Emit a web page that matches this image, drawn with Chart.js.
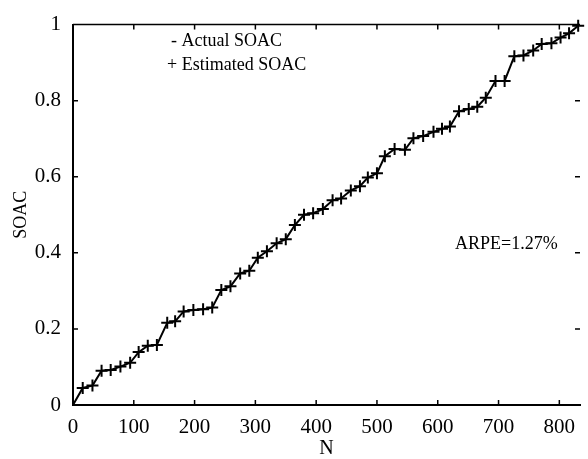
<!DOCTYPE html>
<html>
<head>
<meta charset="utf-8">
<script src="https://cdn.jsdelivr.net/npm/chart.js@4/dist/chart.umd.min.js"></script>
<style>
  html, body { margin: 0; padding: 0; background: #fff; }
  #wrap { width: 588px; height: 459px; }
</style>
</head>
<body>
<div id="wrap"><canvas id="soacChart" width="588" height="459"></canvas></div>
<script>
// sample index N and SOAC values
const sampleN = [16, 32, 47, 62, 78, 94, 108, 123, 138, 155, 168, 182, 198, 214, 229,
  244, 259, 275, 290, 304, 319, 335, 350, 365, 380, 395, 411, 427, 441, 457,
  472, 485, 500, 513, 529, 546, 560, 576, 593, 607, 620, 635, 651, 665, 679,
  695, 710, 726, 741, 757, 771, 787, 802, 816, 831];
const actualSoac = [0.045, 0.051, 0.090, 0.092, 0.101, 0.111, 0.139, 0.156, 0.158, 0.216,
  0.220, 0.246, 0.250, 0.252, 0.256, 0.302, 0.312, 0.346, 0.353, 0.387,
  0.404, 0.425, 0.436, 0.473, 0.500, 0.504, 0.515, 0.538, 0.543, 0.564,
  0.575, 0.598, 0.609, 0.654, 0.673, 0.671, 0.701, 0.707, 0.718, 0.726,
  0.732, 0.772, 0.778, 0.784, 0.808, 0.852, 0.852, 0.917, 0.919, 0.932,
  0.949, 0.951, 0.966, 0.977, 0.997];
const estimatedSoac = actualSoac.slice();

const xTicks = [0, 100, 200, 300, 400, 500, 600, 700, 800];
const yTicks = [0, 0.2, 0.4, 0.6, 0.8, 1];
const xMax = 834;

const serif = "'Liberation Serif', 'DejaVu Serif', serif";

// line starts at the origin
const actualPts = [{ x: 0, y: 0 }].concat(sampleN.map((n, i) => ({ x: n, y: actualSoac[i] })));
const estimatedPts = sampleN.map((n, i) => ({ x: n, y: estimatedSoac[i] }));

// inward ticks, top border and the text notes
const framePlugin = {
  id: 'frame',
  afterDraw(chart) {
    const { ctx, chartArea: a, scales: { x, y } } = chart;
    ctx.save();
    ctx.strokeStyle = '#000';
    ctx.lineWidth = 1.5;
    ctx.beginPath();
    ctx.moveTo(a.left, a.top);
    ctx.lineTo(a.right, a.top);
    ctx.stroke();

    const len = 5;
    ctx.beginPath();
    xTicks.slice(1).forEach(v => {
      const px = x.getPixelForValue(v);
      ctx.moveTo(px, a.bottom); ctx.lineTo(px, a.bottom - len);
      ctx.moveTo(px, a.top); ctx.lineTo(px, a.top + len);
    });
    yTicks.slice(1, -1).forEach(v => {
      const py = y.getPixelForValue(v);
      ctx.moveTo(a.left, py); ctx.lineTo(a.left + len, py);
      ctx.moveTo(a.right, py); ctx.lineTo(a.right - len, py);
    });
    ctx.stroke();

    ctx.fillStyle = '#000';
    ctx.font = "18px " + serif;
    ctx.textBaseline = 'alphabetic';
    ctx.textAlign = 'left';
    ctx.fillText('- Actual SOAC', 171, 46);
    ctx.fillText('+ Estimated SOAC', 167, 70);
    ctx.fillText('ARPE=1.27%', 455, 249);
    ctx.restore();
  }
};

const ctx = document.getElementById('soacChart').getContext('2d');
new Chart(ctx, {
  type: 'scatter',
  data: {
    datasets: [{
      label: 'Actual SOAC',
      data: actualPts,
      showLine: true,
      borderColor: '#000',
      borderWidth: 2,
      pointRadius: 0,
      tension: 0,
      clip: false
    }, {
      label: 'Estimated SOAC',
      data: estimatedPts,
      showLine: false,
      pointStyle: 'cross',
      pointRadius: 6,
      pointBorderWidth: 2,
      borderColor: '#000',
      backgroundColor: '#000',
      clip: false
    }]
  },
  options: {
    responsive: false,
    animation: false,
    layout: { padding: { left: 0, right: 6, top: 16, bottom: 0 } },
    plugins: { legend: { display: false }, tooltip: { enabled: false } },
    scales: {
      x: {
        type: 'linear',
        min: 0,
        max: xMax,
        afterBuildTicks: s => { s.ticks = xTicks.map(v => ({ value: v })); },
        afterFit: s => { s.height = 54; },
        grid: { display: false, drawTicks: false },
        border: { display: true, color: '#000', width: 2 },
        ticks: { color: '#000', font: { family: serif, size: 21 }, padding: 10, maxRotation: 0 },
        title: { display: true, text: 'N', color: '#000', font: { family: serif, size: 20, lineHeight: 1 }, padding: { top: 0, bottom: 0 } }
      },
      y: {
        type: 'linear',
        min: 0,
        max: 1,
        afterBuildTicks: s => { s.ticks = yTicks.map(v => ({ value: v })); },
        afterFit: s => { s.width = 73; },
        grid: { display: false, drawTicks: false },
        border: { display: true, color: '#000', width: 2 },
        ticks: {
          color: '#000',
          font: { family: serif, size: 21 },
          padding: 12,
          callback: v => String(+v.toFixed(1))
        },
        title: { display: true, text: 'SOAC', color: '#000', font: { family: serif, size: 18, lineHeight: 1 }, padding: { top: 12, bottom: 0 } }
      }
    }
  },
  plugins: [framePlugin]
});
</script>
</body>
</html>
